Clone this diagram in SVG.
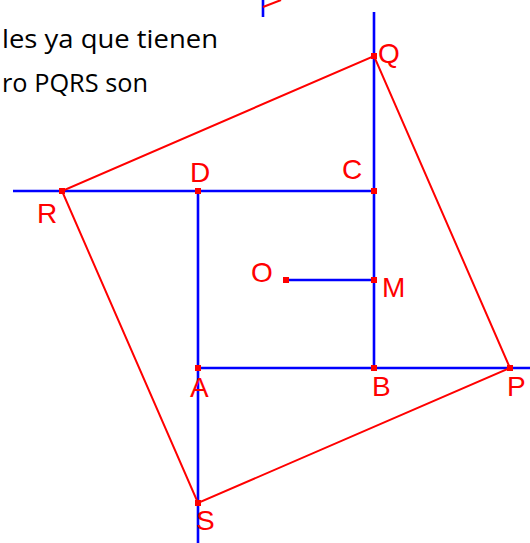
<svg xmlns="http://www.w3.org/2000/svg" width="530" height="543" viewBox="0 0 530 543">
<style>
.bl{stroke:#0000ff;stroke-width:2.6;fill:none}
.rd{stroke:#ff0000;stroke-width:2;fill:none}
.pt{fill:#ff0000}
.lb{font-family:"Liberation Sans",Arial,sans-serif;font-size:28px;fill:#ff0000}
.tx{font-family:"Open Sans","Liberation Sans",sans-serif;font-size:26px;fill:#000000}
</style>
<rect width="530" height="543" fill="#ffffff"/>
<g id="text">
<text class="tx" x="2" y="48" textLength="216" lengthAdjust="spacingAndGlyphs">les ya que tienen</text>
<text class="tx" x="2" y="92" textLength="146" lengthAdjust="spacingAndGlyphs">ro PQRS son</text>
</g>
<g id="connectors">
<line class="bl" x1="263" y1="0" x2="263" y2="17"/>
<line class="rd" x1="263" y1="7" x2="281" y2="0"/>
<line class="bl" x1="374" y1="12" x2="374" y2="368"/>
<line class="bl" x1="13" y1="191" x2="374" y2="191"/>
<line class="bl" x1="198" y1="191" x2="198" y2="543"/>
<line class="bl" x1="198" y1="368" x2="530" y2="368"/>
<line class="bl" x1="286" y1="280" x2="374" y2="280"/>
<polygon class="rd" points="510,368 374,56 62,191 198,503"/>
</g>
<g id="P"><rect class="pt" x="507" y="365" width="6" height="6"/><text class="lb" x="507" y="396">P</text></g>
<g id="Q"><rect class="pt" x="371" y="53" width="6" height="6"/><text class="lb" x="378" y="63">Q</text></g>
<g id="R"><rect class="pt" x="59" y="188" width="6" height="6"/><text class="lb" x="37" y="223">R</text></g>
<g id="S"><rect class="pt" x="195" y="500" width="6" height="6"/><text class="lb" x="196" y="530">S</text></g>
<g id="D"><rect class="pt" x="195" y="188" width="6" height="6"/><text class="lb" x="190" y="182">D</text></g>
<g id="C"><rect class="pt" x="371" y="188" width="6" height="6"/><text class="lb" x="342" y="179">C</text></g>
<g id="A"><rect class="pt" x="195" y="365" width="6" height="6"/><text class="lb" x="190" y="397">A</text></g>
<g id="B"><rect class="pt" x="371" y="365" width="6" height="6"/><text class="lb" x="372" y="396">B</text></g>
<g id="O"><rect class="pt" x="283" y="277" width="6" height="6"/><text class="lb" x="251" y="282">O</text></g>
<g id="M"><rect class="pt" x="371" y="277" width="6" height="6"/><text class="lb" x="382" y="297">M</text></g>
</svg>
